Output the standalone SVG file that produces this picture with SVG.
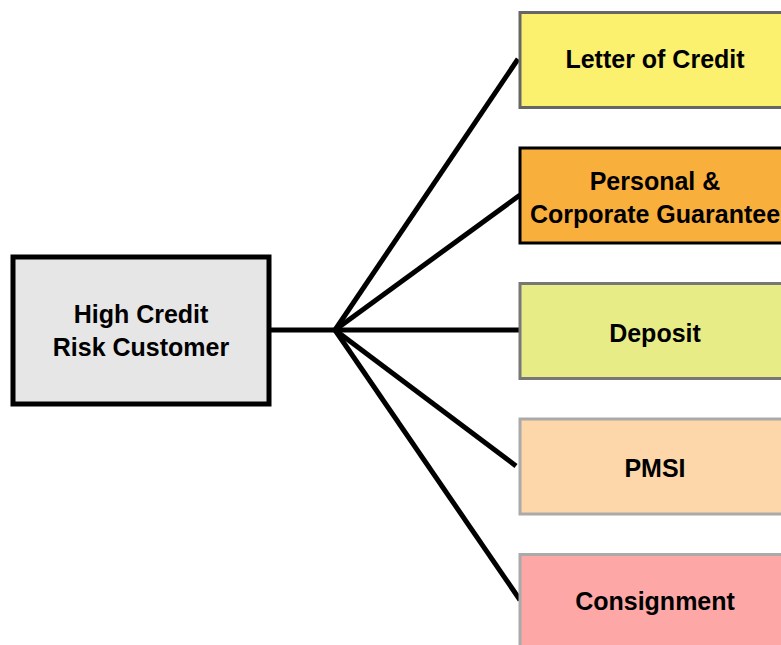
<svg xmlns="http://www.w3.org/2000/svg" width="781" height="645" viewBox="0 0 781 645">
<style>
text{font-family:"Liberation Sans",Arial,sans-serif;font-weight:bold;font-size:25px;fill:#000;text-anchor:middle}
.c{stroke:#000;stroke-width:5;fill:none;stroke-linecap:butt}
</style>
<rect width="781" height="645" fill="#fff"/>
<g id="connectors">
<line class="c" x1="270" y1="330" x2="335" y2="330"/>
<line class="c" x1="335" y1="330" x2="518" y2="59"/>
<line class="c" x1="335" y1="330" x2="520" y2="195"/>
<line class="c" x1="335" y1="330" x2="520" y2="330"/>
<line class="c" x1="335" y1="330" x2="516" y2="466"/>
<line class="c" x1="335" y1="330" x2="520" y2="600"/>
</g>
<g id="high-credit-risk-customer">
<rect x="13" y="257" width="256" height="147" fill="#e6e6e6" stroke="#000" stroke-width="5"/>
<text x="141" y="323">High Credit</text>
<text x="141" y="356">Risk Customer</text>
</g>
<g id="letter-of-credit">
<rect x="520" y="12.5" width="275" height="95" fill="#fcf06f" stroke="#666" stroke-width="3"/>
<text x="655" y="68">Letter of Credit</text>
</g>
<g id="personal-corporate-guarantee">
<rect x="520" y="148" width="275" height="95" fill="#f9af3c" stroke="#000" stroke-width="3"/>
<text x="655" y="190">Personal &amp;</text>
<text x="655" y="223">Corporate Guarantee</text>
</g>
<g id="deposit">
<rect x="520" y="283.5" width="275" height="95" fill="#e8ec86" stroke="#777" stroke-width="3"/>
<text x="655" y="342">Deposit</text>
</g>
<g id="pmsi">
<rect x="520" y="419" width="275" height="95" fill="#fdd7aa" stroke="#aaa" stroke-width="3"/>
<text x="655" y="477">PMSI</text>
</g>
<g id="consignment">
<rect x="520" y="554.5" width="275" height="95" fill="#fda8a6" stroke="#aaa" stroke-width="3"/>
<text x="655" y="610">Consignment</text>
</g>
</svg>
